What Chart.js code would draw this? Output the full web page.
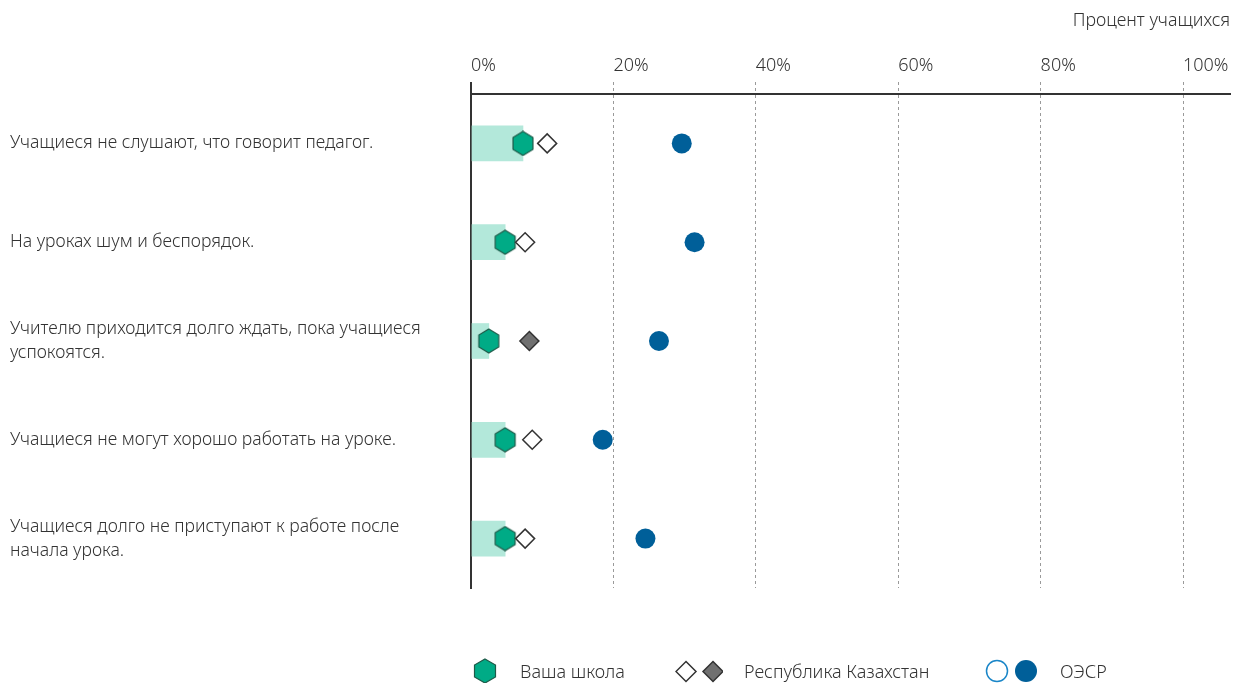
<!DOCTYPE html>
<html>
<head>
<meta charset="utf-8">
<script src="https://cdn.jsdelivr.net/npm/chart.js@4"></script>
<style>
  html, body { margin: 0; padding: 0; background: #fff; }
  #wrap { position: relative; width: 1234px; height: 683px; }
  #chart { position: absolute; left: 0; top: 0; }
  .leg { position: absolute; top: 659px; font: 300 18px "Noto Sans", sans-serif; color: #333; line-height: 24px; white-space: nowrap; }
  .sym { position: absolute; }
</style>
</head>
<body>
<div id="wrap">
  <canvas id="chart" width="1234" height="683"></canvas>
  <svg class="sym" style="left:473px;top:658px" width="24" height="26"><polygon points="12,1 22.5,7 22.5,19 12,25 1.5,19 1.5,7" fill="#00ab86" stroke="#1d5a48" stroke-width="1.2"/></svg>
  <div class="leg" style="left:520px">Ваша школа</div>
  <svg class="sym" style="left:675px;top:660px" width="48" height="23"><polygon points="11,1.5 21,11.5 11,21.5 1,11.5" fill="#fff" stroke="#333" stroke-width="1.5"/><polygon points="39,1.5 49,11.5 39,21.5 29,11.5" fill="#707070" stroke="#333" stroke-width="1.5" transform="translate(-1,0)"/></svg>
  <div class="leg" style="left:744px">Республика Казахстан</div>
  <svg class="sym" style="left:985px;top:659px" width="54" height="24"><circle cx="12" cy="12" r="10.5" fill="#fff" stroke="#1a86c8" stroke-width="1.5"/><circle cx="41" cy="12" r="11" fill="#005f99"/></svg>
  <div class="leg" style="left:1060px">ОЭСР</div>
</div>
<script>
// --- DATA ---
const categories = [
    ['Учащиеся не слушают, что говорит педагог.'],
    ['На уроках шум и беспорядок.'],
    ['Учителю приходится долго ждать, пока учащиеся', 'успокоятся.'],
    ['Учащиеся не могут хорошо работать на уроке.'],
    ['Учащиеся долго не приступают к работе после', 'начала урока.']
];
const schoolValues = [7.3, 4.8, 2.5, 4.8, 4.8];
const kazValues = [10.7, 7.6, 8.2, 8.6, 7.6];
const kazSignificant = [false, false, true, false, false];
const oecdValues = [29.6, 31.4, 26.4, 18.5, 24.5];
const xTicks = [0, 20, 40, 60, 80, 100];

const FONT = '"Noto Sans", sans-serif';

// hexagon marker drawn once on an offscreen canvas
function makeHexagon() {
    const c = document.createElement('canvas');
    c.width = 24; c.height = 26;
    const g = c.getContext('2d');
    g.beginPath();
    for (let i = 0; i < 6; i++) {
        const a = -Math.PI / 2 + i * Math.PI / 3;
        const px = 12 + 11.5 * Math.cos(a), py = 13 + 12 * Math.sin(a);
        i === 0 ? g.moveTo(px, py) : g.lineTo(px, py);
    }
    g.closePath();
    g.fillStyle = '#00ab86';
    g.fill();
    g.strokeStyle = '#1d5a48';
    g.lineWidth = 1.2;
    g.stroke();
    return c;
}
const hexagon = makeHexagon();

new Chart(document.getElementById('chart'), {
    data: {
        labels: categories,
        datasets: [
            {
                type: 'bar', data: schoolValues, order: 4,
                backgroundColor: '#b3e8da', borderWidth: 0, barThickness: 35
            },
            {
                type: 'line', data: schoolValues, order: 3, showLine: false,
                pointStyle: hexagon
            },
            {
                type: 'line', data: kazValues, order: 2, showLine: false,
                pointStyle: 'rectRot', pointRadius: 9.5, pointBorderWidth: 1.5,
                pointBorderColor: '#333',
                pointBackgroundColor: kazSignificant.map(s => s ? '#707070' : '#ffffff')
            },
            {
                type: 'line', data: oecdValues, order: 1, showLine: false,
                pointStyle: 'circle', pointRadius: 10, pointBorderWidth: 0,
                pointBackgroundColor: '#005f99', pointBorderColor: '#005f99'
            }
        ]
    },
    options: {
        indexAxis: 'y',
        responsive: false,
        animation: false,
        events: [],
        layout: { autoPadding: false, padding: { left: 10, right: 4, top: 0, bottom: 95 } },
        plugins: { legend: { display: false }, tooltip: { enabled: false } },
        scales: {
            x: {
                type: 'linear', position: 'top', min: 0, max: 106.6,
                afterBuildTicks: s => { s.ticks = xTicks.map(v => ({ value: v })); },
                afterFit: s => { s.height = 94; s.paddingLeft = 0; s.paddingRight = 0; },
                ticks: {
                    align: 'start', padding: 5, color: '#333',
                    font: { family: FONT, size: 18, weight: 300 },
                    callback: v => v + '%'
                },
                grid: {
                    color: c => c.tick && c.tick.value === 0 ? '#333' : '#9a9a9a',
                    lineWidth: c => c.tick && c.tick.value === 0 ? 2 : 1,
                    tickLength: 12,
                    tickBorderDash: c => c.tick && c.tick.value === 0 ? [] : [3, 3]
                },
                border: {
                    color: '#333', width: 2,
                    dash: c => c.tick && c.tick.value === 0 ? [] : [3, 3]
                },
                title: {
                    display: true, text: 'Процент учащихся', align: 'end', color: '#333',
                    font: { family: FONT, size: 17.8, weight: 300 },
                    padding: { top: 10, bottom: 0 }
                }
            },
            y: {
                type: 'category',
                afterFit: s => { s.width = 461; },
                grid: { display: false },
                border: { display: true, color: '#333', width: 2 },
                ticks: {
                    crossAlign: 'far', color: '#333',
                    font: { family: FONT, size: 17.6, weight: 300, lineHeight: 1.36 }
                }
            }
        }
    }
});
</script>
</body>
</html>
